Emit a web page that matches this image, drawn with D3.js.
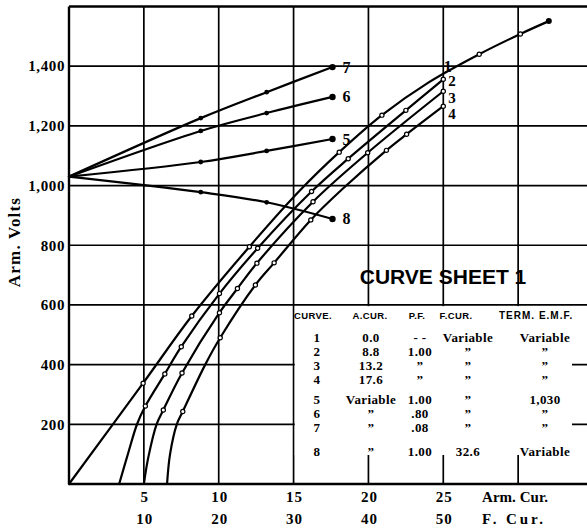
<!DOCTYPE html>
<html>
<head>
<meta charset="utf-8">
<script src="https://cdn.jsdelivr.net/npm/d3@7"></script>
<style>
    body { margin: 0; background: #fff; }
    svg { display: block; }
</style>
</head>
<body>
<div id="chart"></div>
<script>
// ticks and tick labels
var armTicks = [0, 5, 10, 15, 20, 25, 30, 35];
var armLabels = ["", "5", "10", "15", "20", "25", "", ""];
var fieldLabels = ["", "10", "20", "30", "40", "50", "", ""];
var voltTicks = [0, 200, 400, 600, 800, 1000, 1200, 1400, 1600];
var voltLabels = ["", "200", "400", "600", "800", "1,000", "1,200", "1,400", ""];

// curves 1-4: [field current, arm. volts]
var curve1 = [[0, 0], [9.9, 338], [16.4, 563], [24.1, 795], [30.9, 985], [36.1, 1112], [41.8, 1236], [48, 1345], [54.8, 1440], [60.3, 1508], [64.1, 1551]];
var marks1 = [[9.9, 338], [16.4, 563], [24.1, 795], [36.1, 1112], [41.8, 1236], [54.8, 1440], [60.3, 1508]];
var curve2 = [[6.7, 0], [7.9, 103], [9.1, 201], [10.2, 261], [12.8, 369], [15.0, 460], [20.1, 638], [25.2, 790], [32.4, 980], [37.3, 1090], [45, 1252], [50, 1356]];
var marks2 = [[10.2, 261], [12.8, 369], [15.0, 460], [20.1, 638], [25.2, 790], [32.4, 980], [37.3, 1090], [45, 1252], [50, 1356]];
var curve3 = [[10, 0], [10.6, 90], [11.7, 200], [12.6, 248], [15.1, 372], [20.1, 574], [22.5, 655], [25.1, 740], [32.6, 946], [39.9, 1110], [50, 1316]];
var marks3 = [[12.6, 248], [15.1, 372], [20.1, 574], [22.5, 655], [25.1, 740], [32.6, 946], [39.9, 1110], [50, 1316]];
var curve4 = [[13.1, 0], [13.5, 100], [14.4, 200], [15.2, 243], [18.2, 400], [20.2, 490], [24.9, 667], [27.4, 741], [32.3, 885], [36.6, 990], [42.4, 1118], [45.1, 1172], [50, 1266]];
var marks4 = [[15.2, 243], [20.2, 490], [24.9, 667], [27.4, 741], [32.3, 885], [42.4, 1118], [45.1, 1172], [50, 1266]];

// curves 5-8: [arm. current, arm. volts]
var curve5 = [[0, 1030], [8.8, 1079], [13.2, 1116], [17.6, 1156]];
var curve6 = [[0, 1030], [8.8, 1183], [13.2, 1243], [17.6, 1297]];
var curve7 = [[0, 1030], [8.8, 1226], [13.2, 1313], [17.6, 1397]];
var curve8 = [[0, 1030], [8.8, 978], [13.2, 944], [17.6, 888]];

// table
var tableHead = ["CURVE.", "A.CUR.", "P.F.", "F.CUR.", "TERM. E.M.F."];
var tableCurve = ["1", "2", "3", "4", "5", "6", "7", "8"];
var tableACur = ["0.0", "8.8", "13.2", "17.6", "Variable", "\u201D", "\u201D", "\u201D"];
var tablePF = ["- -", "1.00", "\u201D", "\u201D", "1.00", ".80", ".08", "1.00"];
var tableFCur = ["Variable", "\u201D", "\u201D", "\u201D", "\u201D", "\u201D", "\u201D", "32.6"];
var tableTerm = ["Variable", "\u201D", "\u201D", "\u201D", "1,030", "\u201D", "\u201D", "Variable"];

function init() {
    var w = 587;
    var h = 530;
    var serif = "'Liberation Serif', 'Times New Roman', serif";
    var sans = "'Liberation Sans', Arial, sans-serif";

    var svg = d3.select("#chart")
        .append("svg")
        .attr("width", w)
        .attr("height", h);

    // both current scales share the same grid
    var xArm = d3.scaleLinear().domain([0, 35]).range([69, 593]);
    var xField = d3.scaleLinear().domain([0, 70]).range([69, 593]);
    var yScale = d3.scaleLinear().domain([0, 1600]).range([484, 6.5]);

    // grid lines
    svg.append("g")
        .selectAll("line")
        .data(armTicks)
        .enter()
        .append("line")
        .attr("x1", d => xArm(d))
        .attr("x2", d => xArm(d))
        .attr("y1", yScale(1600))
        .attr("y2", yScale(0))
        .attr("stroke", "#000")
        .attr("stroke-width", d => d === 0 ? 2.4 : 1.7);

    svg.append("g")
        .selectAll("line")
        .data(voltTicks)
        .enter()
        .append("line")
        .attr("x1", xArm(0))
        .attr("x2", xArm(35))
        .attr("y1", d => yScale(d))
        .attr("y2", d => yScale(d))
        .attr("stroke", "#000")
        .attr("stroke-width", d => (d === 0 || d === 1600) ? 2.4 : 1.7);

    // white box behind the table
    svg.append("rect")
        .attr("x", xArm(15) + 1.2)
        .attr("y", yScale(600) + 1.2)
        .attr("width", 572 - xArm(15) - 1.2)
        .attr("height", 455 - yScale(600) - 1.2)
        .attr("fill", "#fff");

    var lineField = d3.line()
        .x(d => xField(d[0]))
        .y(d => yScale(d[1]))
        .curve(d3.curveCatmullRom.alpha(0.5));

    var lineArm = d3.line()
        .x(d => xArm(d[0]))
        .y(d => yScale(d[1]))
        .curve(d3.curveCatmullRom.alpha(0.5));

    var curves = svg.append("g")
        .attr("fill", "none")
        .attr("stroke", "#000")
        .attr("stroke-width", 2.2)
        .attr("stroke-linecap", "round");

    [curve1, curve2, curve3, curve4].forEach(c => {
        curves.append("path").attr("d", lineField(c));
    });
    [curve5, curve6, curve7, curve8].forEach(c => {
        curves.append("path").attr("d", lineArm(c));
    });

    // observed points
    var marks = svg.append("g");
    [marks1, marks2, marks3, marks4].forEach(m => {
        marks.selectAll(null)
            .data(m)
            .enter()
            .append("circle")
            .attr("cx", d => xField(d[0]))
            .attr("cy", d => yScale(d[1]))
            .attr("r", 2.1)
            .attr("fill", "#fff")
            .attr("stroke", "#000")
            .attr("stroke-width", 1.2);
    });
    [curve5, curve6, curve7, curve8].forEach(c => {
        marks.selectAll(null)
            .data(c.slice(1))
            .enter()
            .append("circle")
            .attr("cx", d => xArm(d[0]))
            .attr("cy", d => yScale(d[1]))
            .attr("r", (d, i) => i === c.length - 2 ? 3.2 : 2.4)
            .attr("fill", "#000");
    });
    var end1 = curve1[curve1.length - 1];
    marks.append("circle")
        .attr("cx", xField(end1[0]))
        .attr("cy", yScale(end1[1]))
        .attr("r", 3)
        .attr("fill", "#000");

    // curve numbers
    var num = svg.append("g")
        .attr("font-family", serif)
        .attr("font-weight", "bold")
        .attr("font-size", 16);

    [[curve5, "5"], [curve6, "6"], [curve7, "7"], [curve8, "8"]].forEach(p => {
        var e = p[0][p[0].length - 1];
        num.append("text")
            .attr("x", xArm(e[0]) + 10)
            .attr("y", yScale(e[1]) + 5.5)
            .text(p[1]);
    });
    num.append("text").attr("x", xField(50) + 0.5).attr("y", yScale(1385) + 1).text("1");
    [[curve2, "2", 7], [curve3, "3", 11.5], [curve4, "4", 12.5]].forEach(p => {
        var e = p[0][p[0].length - 1];
        num.append("text")
            .attr("x", xField(e[0]) + 5)
            .attr("y", yScale(e[1]) + p[2])
            .attr("font-size", 15)
            .text(p[1]);
    });

    // volt labels
    svg.append("g")
        .selectAll("text")
        .data(voltTicks)
        .enter()
        .append("text")
        .attr("x", 65)
        .attr("y", d => yScale(d))
        .attr("dy", "0.35em")
        .attr("text-anchor", "end")
        .attr("font-family", serif)
        .attr("font-weight", "bold")
        .attr("font-size", 15)
        .attr("letter-spacing", 0.6)
        .text((d, i) => voltLabels[i]);

    // current labels, two rows
    var xl = svg.append("g")
        .attr("font-family", serif)
        .attr("font-weight", "bold")
        .attr("font-size", 15)
        .attr("text-anchor", "middle");

    xl.selectAll(null)
        .data(armTicks)
        .enter()
        .append("text")
        .attr("x", d => xArm(d) + 1)
        .attr("y", 502)
        .attr("letter-spacing", 1)
        .text((d, i) => armLabels[i]);

    xl.selectAll(null)
        .data(armTicks)
        .enter()
        .append("text")
        .attr("x", d => xArm(d) + 1)
        .attr("y", 524)
        .attr("letter-spacing", 1)
        .text((d, i) => fieldLabels[i]);

    xl.append("text")
        .attr("x", 482).attr("y", 502)
        .attr("text-anchor", "start")
        .attr("textLength", 66)
        .attr("lengthAdjust", "spacing")
        .text("Arm. Cur.");
    xl.append("text")
        .attr("x", 482).attr("y", 524)
        .attr("text-anchor", "start")
        .attr("textLength", 61)
        .attr("lengthAdjust", "spacing")
        .text("F. Cur.");

    svg.append("text")
        .attr("transform", "translate(20, 242) rotate(-90)")
        .attr("text-anchor", "middle")
        .attr("font-family", serif)
        .attr("font-weight", "bold")
        .attr("font-size", 17)
        .attr("letter-spacing", 1.2)
        .text("Arm. Volts");

    svg.append("text")
        .attr("x", 443)
        .attr("y", 284)
        .attr("text-anchor", "middle")
        .attr("font-family", sans)
        .attr("font-weight", "bold")
        .attr("font-size", 21)
        .text("CURVE SHEET 1");

    // table
    var tbl = svg.append("g");
    var headX = [313, 370, 417, 456, 499];
    tbl.selectAll(null)
        .data(tableHead)
        .enter()
        .append("text")
        .attr("x", (d, i) => headX[i])
        .attr("y", 318.5)
        .attr("text-anchor", (d, i) => i === 4 ? "start" : "middle")
        .attr("font-family", sans)
        .attr("font-weight", "bold")
        .attr("font-size", (d, i) => i === 4 ? 10 : 9.5)
        .attr("letter-spacing", (d, i) => i === 4 ? 1 : 0.4)
        .text(d => d);

    var rowY = i => 341.5 + i * 14 + (i >= 4 ? 6 : 0) + (i >= 7 ? 10 : 0);
    var cols = [[tableCurve, 317], [tableACur, 371], [tablePF, 420], [tableFCur, 468], [tableTerm, 545]];
    cols.forEach(c => {
        tbl.selectAll(null)
            .data(c[0])
            .enter()
            .append("text")
            .attr("x", c[1])
            .attr("y", (d, i) => rowY(i))
            .attr("text-anchor", "middle")
            .attr("font-family", serif)
            .attr("font-weight", "bold")
            .attr("font-size", 13)
            .attr("letter-spacing", 0.4)
            .text(d => d);
    });
}

window.onload = init;
</script>
</body>
</html>
